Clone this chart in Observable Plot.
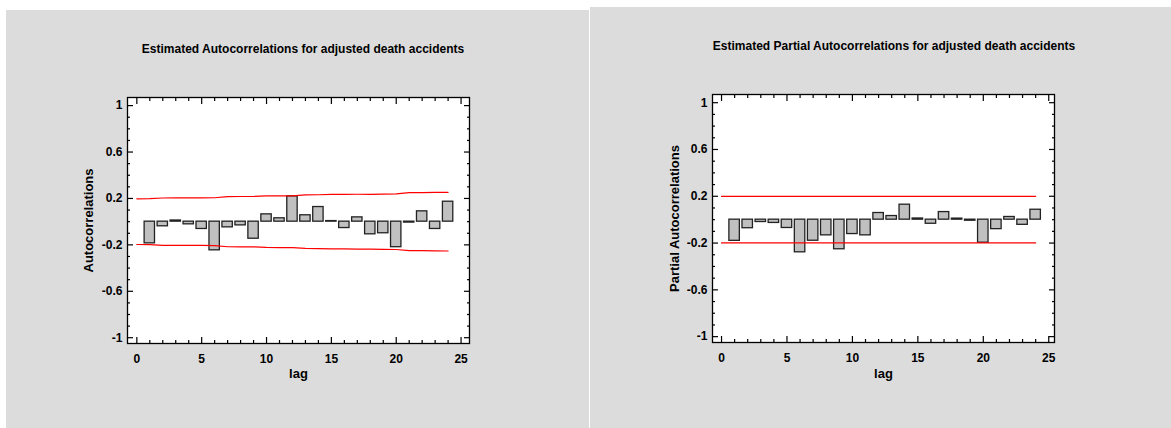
<!DOCTYPE html>
<html>
<head>
<meta charset="utf-8">
<script src="https://cdn.jsdelivr.net/npm/d3@7"></script>
<script src="https://cdn.jsdelivr.net/npm/@observablehq/plot@0.6"></script>
<style>
  html, body { margin: 0; padding: 0; background: #ffffff; }
  body { width: 1171px; height: 428px; position: relative; overflow: hidden;
         font-family: "Liberation Sans", Arial, Helvetica, sans-serif; }
  .panel { position: absolute; background: #dcdcdc; }
  .panel svg { position: absolute; left: 0; top: 0; }
  .title { position: absolute; font-weight: bold; font-size: 12px; white-space: nowrap;
           transform: translate(-50%, -50%); color: #000; }
</style>
</head>
<body>
<div id="p1" class="panel" style="left:6px;top:10px;width:583px;height:418px">
  <div class="title" style="left:297px;top:39px">Estimated Autocorrelations for adjusted death accidents</div>
</div>
<div id="p2" class="panel" style="left:590px;top:7px;width:581px;height:421px">
  <div class="title" style="left:304px;top:39px">Estimated Partial Autocorrelations for adjusted death accidents</div>
</div>
<script>
// ---- data ----
const lags = [1, 2, 3, 4, 5, 6, 7, 8, 9, 10, 11, 12, 13, 14, 15, 16, 17, 18, 19, 20, 21, 22, 23, 24];
const acf = [-0.187, -0.040, 0.010, -0.023, -0.063, -0.247, -0.049, -0.032, -0.147, 0.063, 0.029, 0.218,
             0.055, 0.126, 0.005, -0.055, 0.037, -0.109, -0.100, -0.220, -0.008, 0.089, -0.063, 0.172];
const acfLimitLags = [0, 1, 2, 3, 4, 5, 6, 7, 8, 9, 10, 11, 12, 13, 14, 15, 16, 17, 18, 19, 20, 21, 22, 23, 24];
const acfLimit = [0.197, 0.198, 0.204, 0.205, 0.205, 0.205, 0.206, 0.216, 0.217, 0.217, 0.222, 0.223, 0.223,
                  0.231, 0.232, 0.235, 0.235, 0.236, 0.236, 0.238, 0.240, 0.250, 0.250, 0.252, 0.253];
const pacf = [-0.181, -0.073, -0.020, -0.028, -0.071, -0.279, -0.180, -0.134, -0.253, -0.123, -0.134, 0.057,
              0.031, 0.128, 0.010, -0.035, 0.065, 0.009, -0.009, -0.197, -0.081, 0.023, -0.044, 0.085];
const pacfLimitLags = [0, 24];
const pacfLimit = [0.199, 0.199];

const yMajorTicks = [-1, -0.6, -0.2, 0.2, 0.6, 1];
const yMinorTicks = [-0.9, -0.8, -0.7, -0.5, -0.4, -0.3, -0.1, 0, 0.1, 0.3, 0.4, 0.5, 0.7, 0.8, 0.9];
const xMajorTicks = [0, 5, 10, 15, 20, 25];
const xMinorTicks = [1, 2, 3, 4, 6, 7, 8, 9, 11, 12, 13, 14, 16, 17, 18, 19, 21, 22, 23, 24];

const acfLabel = "Autocorrelations";
const pacfLabel = "Partial Autocorrelations";
const xLabel = "lag";

function makeChart({values, limLags, lim, xDomain, yDomain, width, height, margin, ylabel, ylabelDx, xlabelDy}) {
  const bars = lags.map((lag, i) => ({lag, v: values[i]}));
  const band = limLags.map((lag, i) => ({lag, v: lim[i]}));
  const marks = [
    Plot.frame({fill: "white", stroke: null}),
    Plot.rect(bars, {
      x1: d => d.lag - 0.4, x2: d => d.lag + 0.4, y1: d => 0, y2: "v",
      fill: "#c0c0c0", stroke: "#222", strokeWidth: 1.3
    }),
    Plot.line(band, {x: "lag", y: "v", stroke: "#ff0000", strokeWidth: 1.2}),
    Plot.line(band, {x: "lag", y: d => -d.v, stroke: "#ff0000", strokeWidth: 1.2})
  ];
  for (const anchor of ["left", "right"]) {
    marks.push(Plot.axisY({anchor, ticks: yMajorTicks, tickSize: -6, fill: "none", label: null, strokeWidth: 1.2}));
    marks.push(Plot.axisY({anchor, ticks: yMinorTicks, tickSize: -3, fill: "none", label: null, strokeWidth: 1.2}));
  }
  for (const anchor of ["bottom", "top"]) {
    marks.push(Plot.axisX({anchor, ticks: xMajorTicks, tickSize: -6, fill: "none", label: null, strokeWidth: 1.2}));
    marks.push(Plot.axisX({anchor, ticks: xMinorTicks, tickSize: -3, fill: "none", label: null, strokeWidth: 1.2}));
  }
  marks.push(Plot.axisY({anchor: "left", ticks: yMajorTicks, tickSize: 0, tickPadding: 5,
                         tickFormat: d => String(d), label: null, fontSize: 12, fontWeight: "bold"}));
  marks.push(Plot.axisX({anchor: "bottom", ticks: xMajorTicks, tickSize: 0, tickPadding: 11,
                         tickFormat: d => String(d), label: null, fontSize: 12, fontWeight: "bold"}));
  marks.push(Plot.text([ylabel], {frameAnchor: "left", textAnchor: "middle", lineAnchor: "middle", dx: ylabelDx,
                                  rotate: -90, fontSize: 13, fontWeight: "bold", fill: "black"}));
  marks.push(Plot.text([xLabel], {frameAnchor: "bottom", textAnchor: "middle", dy: xlabelDy,
                                  fontSize: 13, fontWeight: "bold", fill: "black"}));
  marks.push(Plot.frame({stroke: "black", strokeWidth: 1.3}));
  return Plot.plot({
    width, height,
    marginLeft: margin[0], marginRight: margin[1], marginTop: margin[2], marginBottom: margin[3],
    x: {domain: xDomain},
    y: {domain: yDomain},
    style: {background: "transparent", color: "black", fontFamily: '"Liberation Sans", Arial, sans-serif',
            fontWeight: "bold", fontSize: "12px", overflow: "visible"},
    marks
  });
}

document.getElementById("p1").appendChild(makeChart({
  values: acf, limLags: acfLimitLags, lim: acfLimit,
  xDomain: [-0.72, 25.65], yDomain: [-1.05, 1.07],
  width: 583, height: 418, margin: [121, 120, 87, 85],
  ylabel: acfLabel, ylabelDx: -39, xlabelDy: 34
}));
document.getElementById("p2").appendChild(makeChart({
  values: pacf, limLags: pacfLimitLags, lim: pacfLimit,
  xDomain: [-0.69, 25.44], yDomain: [-1.05, 1.07],
  width: 581, height: 421, margin: [122, 117, 87, 86],
  ylabel: pacfLabel, ylabelDx: -38, xlabelDy: 35
}));
</script>
</body>
</html>
